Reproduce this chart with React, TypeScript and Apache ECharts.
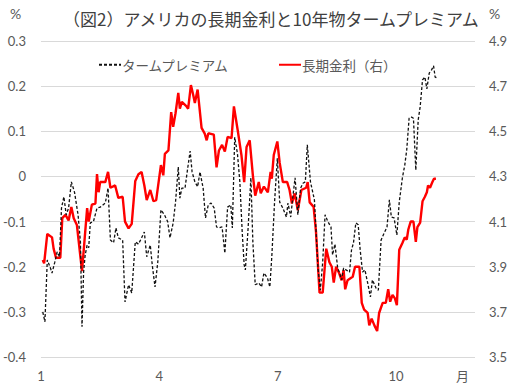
import React, { useEffect, useRef } from 'react';
import * as echarts from 'echarts';

// x positions are in month units (1 = start of January)
const monthLabels = [1, 4, 7, 10];

const premiumMonths = [
  1.045, 1.1, 1.16, 1.24, 1.28, 1.35, 1.41, 1.47, 1.52, 1.58, 1.64, 1.7, 1.77, 1.85, 1.94, 2.0, 2.04, 2.08, 2.12, 2.17,
  2.21, 2.25, 2.33, 2.42, 2.5, 2.63, 2.7, 2.76, 2.84, 2.9, 2.96, 3.07, 3.13, 3.22, 3.3, 3.39, 3.47, 3.55, 3.62, 3.68,
  3.77, 3.82, 3.89, 3.96, 4.04, 4.13, 4.21, 4.27, 4.35, 4.41, 4.48, 4.52, 4.57, 4.65, 4.72, 4.78, 4.83, 4.9, 4.97, 5.03,
  5.11, 5.17, 5.24, 5.31, 5.39, 5.45, 5.51, 5.59, 5.66, 5.73, 5.81, 5.85, 5.91, 5.98, 6.04, 6.1, 6.15, 6.18, 6.25, 6.32,
  6.37, 6.43, 6.52, 6.59, 6.65, 6.74, 6.8, 6.85, 6.92, 6.99, 7.05, 7.13, 7.22, 7.26, 7.33, 7.38, 7.44, 7.51, 7.58, 7.64,
  7.7, 7.75, 7.83, 7.93, 8.02, 8.08, 8.14, 8.2, 8.27, 8.35, 8.39, 8.45, 8.52, 8.56, 8.62, 8.67, 8.73, 8.82, 8.87, 8.92,
  8.98, 9.04, 9.09, 9.15, 9.21, 9.28, 9.35, 9.4, 9.49, 9.55, 9.62, 9.7, 9.77, 9.83, 9.88, 9.95, 10.02, 10.08, 10.16, 10.22,
  10.27, 10.33, 10.38, 10.44, 10.5, 10.56, 10.61, 10.67, 10.73, 10.78, 10.84, 10.9, 10.95, 10.99, 11.04,
];
const premiumValues = [
  -0.3, -0.322, -0.185, -0.203, -0.214, -0.19, -0.167, -0.178, -0.07, -0.045, -0.085, -0.07, -0.012, -0.035, -0.085, -0.145, -0.333, -0.212, -0.174, -0.152,
  -0.158, -0.103, -0.1, -0.07, -0.068, -0.059, -0.026, -0.141, -0.147, -0.114, -0.136, -0.141, -0.278, -0.24, -0.258, -0.145, -0.15, -0.136, -0.123, -0.178,
  -0.152, -0.196, -0.245, -0.19, -0.074, -0.085, -0.1, -0.136, -0.103, -0.057, 0.021, -0.048, -0.026, -0.026, 0.019, 0.056, 0.01, -0.012, -0.023, 0.01,
  -0.026, -0.092, -0.063, -0.059, -0.07, -0.112, -0.114, -0.112, -0.17, -0.068, -0.063, -0.114, 0.087, 0.05, -0.012, -0.123, -0.196, -0.207, -0.114, -0.003,
  -0.145, -0.24, -0.236, -0.245, -0.214, -0.225, -0.245, -0.178, -0.057, 0.04, -0.057, -0.07, -0.09, -0.059, -0.09, -0.048, -0.003, -0.085, -0.026, -0.015,
  -0.012, 0.07, -0.012, -0.052, -0.203, -0.252, -0.19, -0.085, -0.1, -0.112, -0.174, -0.15, -0.203, -0.212, -0.229, -0.203, -0.207, -0.212, -0.163, -0.147,
  -0.103, -0.107, -0.163, -0.212, -0.207, -0.236, -0.267, -0.229, -0.247, -0.252, -0.141, -0.125, -0.112, -0.052, -0.09, -0.092, -0.13, -0.057, -0.003, 0.025,
  0.059, 0.129, 0.132, 0.129, 0.014, 0.125, 0.154, 0.214, 0.22, 0.194, 0.229, 0.236, 0.245, 0.22, 0.218,
];

const rateMonths = [
  1.045, 1.08, 1.16, 1.28, 1.32, 1.38, 1.49, 1.54, 1.62, 1.7, 1.77, 1.83, 1.91, 2.04, 2.17, 2.21, 2.29, 2.38, 2.42, 2.46,
  2.5, 2.63, 2.7, 2.76, 2.88, 2.96, 3.07, 3.13, 3.22, 3.3, 3.39, 3.47, 3.55, 3.62, 3.68, 3.77, 3.85, 3.92, 3.97, 4.04,
  4.1, 4.14, 4.23, 4.3, 4.35, 4.41, 4.48, 4.52, 4.57, 4.69, 4.73, 4.8, 4.86, 4.9, 4.97, 5.07, 5.15, 5.2, 5.24, 5.28,
  5.38, 5.45, 5.51, 5.59, 5.66, 5.73, 5.83, 5.89, 5.99, 6.08, 6.15, 6.21, 6.29, 6.37, 6.43, 6.52, 6.57, 6.65, 6.75, 6.82,
  6.85, 6.9, 6.99, 7.05, 7.13, 7.24, 7.3, 7.36, 7.43, 7.51, 7.6, 7.72, 7.76, 7.81, 7.91, 7.97, 8.06, 8.14, 8.23, 8.31,
  8.37, 8.42, 8.48, 8.56, 8.62, 8.67, 8.71, 8.77, 8.9, 8.96, 9.07, 9.13, 9.19, 9.28, 9.32, 9.38, 9.45, 9.52, 9.57, 9.66,
  9.74, 9.8, 9.85, 9.91, 9.97, 10.02, 10.08, 10.16, 10.22, 10.27, 10.31, 10.37, 10.44, 10.5, 10.54, 10.61, 10.67, 10.73, 10.78, 10.81,
  10.86, 10.92, 10.96, 11.01,
];
const rateValues = [
  3.93, 3.915, 4.045, 4.03, 3.98, 3.94, 3.94, 4.115, 4.13, 4.105, 4.165, 4.115, 4.085, 3.88, 4.16, 4.1, 4.175, 4.18, 4.31, 4.23,
  4.275, 4.275, 4.32, 4.25, 4.26, 4.205, 4.21, 4.1, 4.07, 4.09, 4.28, 4.31, 4.32, 4.26, 4.195, 4.24, 4.19, 4.195, 4.26, 4.35,
  4.305, 4.4, 4.415, 4.585, 4.52, 4.58, 4.67, 4.6, 4.63, 4.61, 4.6, 4.705, 4.66, 4.625, 4.685, 4.515, 4.49, 4.46, 4.49, 4.49,
  4.485, 4.34, 4.415, 4.44, 4.41, 4.475, 4.47, 4.61, 4.5, 4.395, 4.275, 4.43, 4.46, 4.305, 4.215, 4.275, 4.225, 4.255, 4.23, 4.32,
  4.29, 4.395, 4.455, 4.36, 4.275, 4.275, 4.24, 4.18, 4.225, 4.15, 4.24, 4.25, 4.275, 4.185, 4.165, 4.055, 3.785, 3.785, 3.98, 3.92,
  3.9, 3.83, 3.9, 3.87, 3.84, 3.885, 3.8, 3.84, 3.855, 3.9, 3.9, 3.74, 3.71, 3.695, 3.64, 3.67, 3.64, 3.615, 3.695, 3.74,
  3.74, 3.8, 3.745, 3.775, 3.76, 3.73, 3.975, 4.005, 4.03, 4.02, 4.065, 4.1, 4.1, 4.01, 4.075, 4.095, 4.19, 4.21, 4.23, 4.26,
  4.25, 4.275, 4.29, 4.29,
];

const premiumName = 'タームプレミアム';
const rateName = '長期金利（右）';
const titleText = '（図2）アメリカの長期金利と10年物タームプレミアム';

const zip = (xs: number[], ys: number[]) => xs.map((x, i) => [x, ys[i]]);

const labelColor = '#595959';
const numFont = 'Lato, "Noto Sans CJK JP", sans-serif';
const jpFont = '"Noto Sans CJK JP", sans-serif';

export default function App() {
  const ref = useRef<HTMLDivElement>(null);
  useEffect(() => {
    if (!ref.current) return;
    const chart = echarts.init(ref.current, null, { renderer: 'svg' });
    chart.setOption({
      animation: false,
      backgroundColor: '#ffffff',
      title: {
        text: titleText,
        left: 58,
        top: 5,
        textStyle: { fontFamily: jpFont, fontSize: 17, fontWeight: 'normal', color: '#404040' },
      },
      legend: {
        top: 53,
        left: 93,
        itemGap: 48,
        itemWidth: 22,
        itemHeight: 10,
        itemStyle: { opacity: 0 },
        textStyle: { fontFamily: jpFont, fontSize: 13.5, color: labelColor, padding: [0, 0, 0, -4] },
        data: [premiumName, rateName],
      },
      graphic: [
        { type: 'text', left: 10, top: 6, style: { text: '%', fontFamily: numFont, fontSize: 14, fill: labelColor } },
        { type: 'text', left: 489, top: 6, style: { text: '%', fontFamily: numFont, fontSize: 14, fill: labelColor } },
        { type: 'text', left: 456, top: 369, style: { text: '月', fontFamily: jpFont, fontSize: 13, fill: labelColor } },
      ],
      grid: { left: 40, right: 37, top: 41, bottom: 33, containLabel: false },
      xAxis: {
        type: 'value',
        min: 1,
        max: 12,
        interval: 3,
        axisLine: { show: false },
        axisTick: { show: false },
        splitLine: { show: false },
        axisLabel: {
          margin: 12,
          fontFamily: numFont,
          fontSize: 13,
          color: labelColor,
          formatter: (v: number) => (monthLabels.includes(Math.round(v)) && Math.abs(v - Math.round(v)) < 1e-6 ? String(Math.round(v)) : ''),
        },
      },
      yAxis: [
        {
          type: 'value',
          min: -0.4,
          max: 0.3,
          interval: 0.1,
          axisLine: { show: false },
          axisTick: { show: false },
          splitLine: { lineStyle: { color: '#d9d9d9', width: 1 } },
          axisLabel: {
            margin: 15,
            fontFamily: numFont,
            fontSize: 13,
            color: labelColor,
            formatter: (v: number) => (Math.abs(v) < 1e-9 ? '0' : v.toFixed(1)),
          },
        },
        {
          type: 'value',
          min: 3.5,
          max: 4.9,
          interval: 0.2,
          axisLine: { show: false },
          axisTick: { show: false },
          splitLine: { show: false },
          axisLabel: {
            margin: 14,
            fontFamily: numFont,
            fontSize: 13,
            color: labelColor,
            formatter: (v: number) => v.toFixed(1),
          },
        },
      ],
      series: [
        {
          name: premiumName,
          type: 'line',
          yAxisIndex: 0,
          symbol: 'none',
          data: zip(premiumMonths, premiumValues),
          lineStyle: { color: '#111111', width: 1.3, type: [3, 2] },
          itemStyle: { color: '#111111' },
          z: 3,
        },
        {
          name: rateName,
          type: 'line',
          yAxisIndex: 1,
          symbol: 'none',
          data: zip(rateMonths, rateValues),
          lineStyle: { color: '#ff0000', width: 2.4 },
          itemStyle: { color: '#ff0000' },
          z: 2,
        },
      ],
    });
    return () => chart.dispose();
  }, []);
  return <div ref={ref} style={{ position: 'fixed', left: 0, top: 0, width: 512, height: 390 }} />;
}
